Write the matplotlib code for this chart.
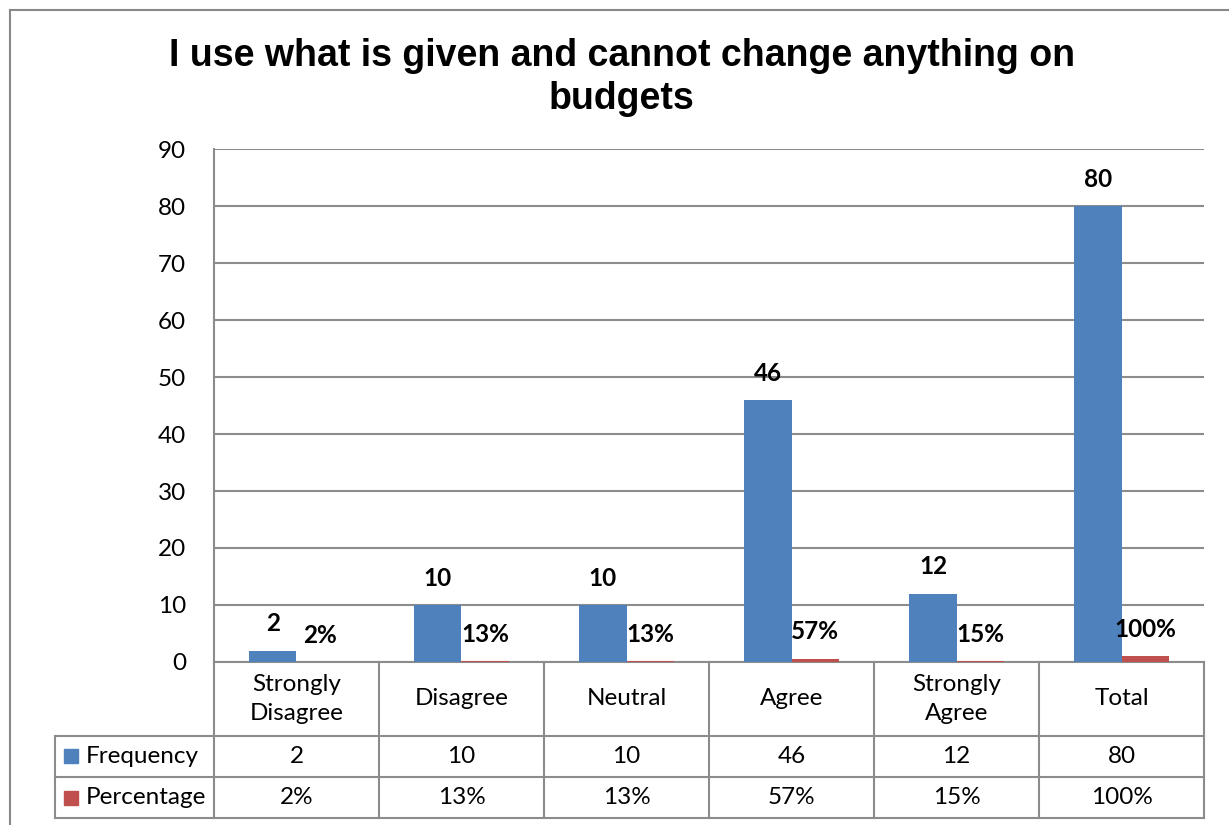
import matplotlib as mpl
mpl.use('Agg')

import matplotlib.pyplot as plt
import numpy as np

# Survey responses
categories = ['Strongly\nDisagree', 'Disagree', 'Neutral', 'Agree',
              'Strongly\nAgree', 'Total']
frequency = [2, 10, 10, 46, 12, 80]
percentage = [0.02, 0.13, 0.13, 0.57, 0.15, 1.00]
series_names = ['Frequency', 'Percentage']

title = 'I use what is given and cannot change anything on\nbudgets'

BLUE = '#4f81bd'
RED = '#c0504d'
GRID = '#8c8c8c'
FONT = 'Lato'
FS = 17.5

fig = plt.figure(figsize=(12.29, 8.25), dpi=100)
ax = fig.add_axes([0.1741, 0.19758, 0.8056, 0.6218])

x = np.arange(len(categories))
w = 1 / 3.5
ax.bar(x - w / 2, frequency, width=w, color=BLUE, zorder=3)
ax.bar(x + w / 2, percentage, width=w, color=RED, zorder=3)

ax.set_xlim(-0.5, len(categories) - 0.5)
ax.set_ylim(0, 90)
ax.set_yticks(np.arange(0, 91, 10))
ax.set_xticks([])
ax.yaxis.grid(True, color=GRID, linewidth=1.5, zorder=0)
ax.tick_params(axis='y', length=0, pad=20, labelsize=FS)
for lbl in ax.get_yticklabels():
    lbl.set_fontfamily(FONT)
for side in ['top', 'right', 'bottom']:
    ax.spines[side].set_visible(False)
ax.spines['left'].set_color(GRID)
ax.spines['left'].set_linewidth(1.5)

# data labels
for xi, f, p in zip(x, frequency, percentage):
    ax.annotate(str(f), (xi - w / 2, f), xytext=(0, 11),
                textcoords='offset points', ha='center', va='bottom',
                fontsize=FS, fontweight='bold', family=FONT)
    ax.annotate('{:.0%}'.format(p), (xi + w / 2, p), xytext=(0, 11),
                textcoords='offset points', ha='center', va='bottom',
                fontsize=FS, fontweight='bold', family=FONT)

# data table under the plot
tr = ax.get_xaxis_transform()
rows = [0, -0.1442, -0.2242, -0.3041]
left = -1.465
line_kw = dict(color=GRID, linewidth=1.5, transform=tr, clip_on=False)

ax.plot([-0.5, 5.5], [rows[0], rows[0]], **line_kw)
for yy in rows[1:]:
    ax.plot([left, 5.5], [yy, yy], **line_kw)
ax.plot([left, left], [rows[1], rows[3]], **line_kw)
for b in np.arange(-0.5, 6.0, 1.0):
    ax.plot([b, b], [rows[0], rows[3]], **line_kw)

for xi, cat, f, p in zip(x, categories, frequency, percentage):
    ax.text(xi, (rows[0] + rows[1]) / 2, cat, transform=tr, ha='center',
            va='center', fontsize=FS, family=FONT, linespacing=1.5)
    ax.text(xi, (rows[1] + rows[2]) / 2, str(f), transform=tr,
            ha='center', va='center', fontsize=FS, family=FONT)
    ax.text(xi, (rows[2] + rows[3]) / 2, '{:.0%}'.format(p), transform=tr,
            ha='center', va='center', fontsize=FS, family=FONT)

# legend keys in the table's first column
for (y0, y1), name, col in zip([(rows[1], rows[2]), (rows[2], rows[3])],
                               series_names, [BLUE, RED]):
    ym = (y0 + y1) / 2
    ax.plot([left + 0.1], [ym], marker='s', markersize=10.5, color=col,
            transform=tr, clip_on=False, linestyle='none')
    ax.text(left + 0.185, ym, name, transform=tr, ha='left', va='center',
            fontsize=FS, family=FONT)

fig.text(0.506, 0.906, title, ha='center', va='center', fontsize=27,
         fontweight='bold', family='Liberation Sans', linespacing=1.25)

# outer chart frame
fx, fy = 10 / 1229, 1 - 10 / 825
fig.add_artist(plt.Line2D([fx, 1], [fy, fy], color='#888888', linewidth=1.5))
fig.add_artist(plt.Line2D([fx, fx], [0, fy], color='#888888', linewidth=1.5))

fig.savefig('out.png', dpi=100)
